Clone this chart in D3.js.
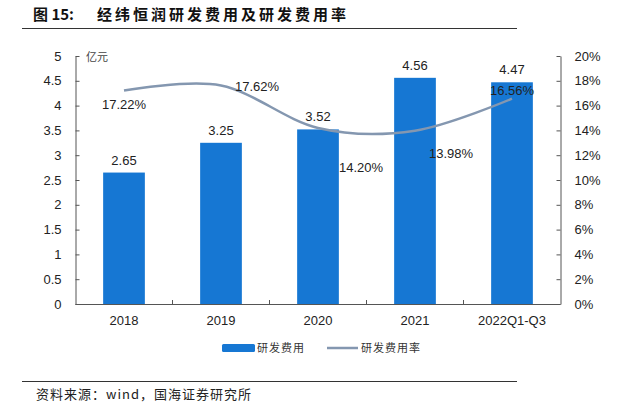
<!DOCTYPE html>
<html>
<head>
<meta charset="utf-8">
<script src="https://cdn.jsdelivr.net/npm/d3@7/dist/d3.min.js"></script>
<style>
  body { margin: 0; background: #fff; }
  svg { display: block; }
</style>
</head>
<body>
<svg id="chart" width="624" height="407"></svg>
<script>
const categories = ["2018", "2019", "2020", "2021", "2022Q1-Q3"]
const spending = [2.65, 3.25, 3.52, 4.56, 4.47]      // 研发费用, 亿元
const ratio = [17.22, 17.62, 14.20, 13.98, 16.56]    // 研发费用率, %
const leftTicks = [0, 0.5, 1, 1.5, 2, 2.5, 3, 3.5, 4, 4.5, 5]
const rightTicks = [0, 2, 4, 6, 8, 10, 12, 14, 16, 18, 20]

const svg = d3.select("#chart")
const numFont = "'Liberation Sans', Arial, sans-serif"
const cjkFont = "'Noto Sans CJK SC', sans-serif"

const plotLeft = 75.5, plotRight = 560.5, plotTop = 56, plotBottom = 304

// title
svg.append("text")
  .attr("x", 33).attr("y", 20)
  .style("font-family", cjkFont)
  .style("font-size", "15px")
  .style("font-weight", "bold")
  .style("fill", "#111")
  .text("图 15:")
svg.append("text")
  .attr("x", 97).attr("y", 20)
  .style("font-family", cjkFont)
  .style("font-size", "15px")
  .style("font-weight", "bold")
  .style("letter-spacing", "3px")
  .style("fill", "#111")
  .text("经纬恒润研发费用及研发费用率")

svg.append("line")
  .attr("x1", 22).attr("x2", 517).attr("y1", 28.5).attr("y2", 28.5)
  .attr("stroke", "#333").attr("stroke-width", 1)

const x = d3.scaleBand().domain(categories).range([plotLeft, plotRight]).paddingInner(0.57).paddingOuter(0.285)
const yL = d3.scaleLinear().domain([0, 5]).range([plotBottom, plotTop])
const yR = d3.scaleLinear().domain([0, 20]).range([plotBottom, plotTop])

// bars
svg.selectAll("rect.bar")
  .data(spending)
  .join("rect")
  .attr("class", "bar")
  .attr("x", (d, i) => x(categories[i]))
  .attr("y", d => yL(d))
  .attr("width", x.bandwidth())
  .attr("height", d => plotBottom - yL(d))
  .attr("fill", "#1677d3")

svg.selectAll("text.barlab")
  .data(spending)
  .join("text")
  .attr("class", "barlab")
  .attr("x", (d, i) => x(categories[i]) + x.bandwidth() / 2)
  .attr("y", d => yL(d) - 8)
  .attr("text-anchor", "middle")
  .style("font-family", numFont)
  .style("font-size", "13px")
  .style("fill", "#222")
  .text(d => d.toFixed(2))

// line
const cx = i => x(categories[i]) + x.bandwidth() / 2
const line = d3.line()
  .x((d, i) => cx(i))
  .y(d => yR(d))
  .curve(d3.curveCardinal.tension(0))

svg.append("path")
  .datum(ratio)
  .attr("fill", "none")
  .attr("stroke", "#8497b0")
  .attr("stroke-width", 2.5)
  .attr("d", line)

// line labels, offsets relative to each point
const labOff = [[0, 19], [36, 5], [43, 44], [36, 27], [0, -4]]
svg.selectAll("text.ratiolab")
  .data(ratio)
  .join("text")
  .attr("class", "ratiolab")
  .attr("x", (d, i) => cx(i) + labOff[i][0])
  .attr("y", (d, i) => yR(d) + labOff[i][1])
  .attr("text-anchor", "middle")
  .style("font-family", numFont)
  .style("font-size", "13px")
  .style("fill", "#222")
  .text(d => d.toFixed(2) + "%")

// axes
const axisStyle = g => {
  g.select(".domain").attr("stroke", "#555")
  g.selectAll(".tick line").attr("stroke", "#555")
  g.selectAll(".tick text")
    .style("font-family", numFont)
    .style("font-size", "13px")
    .style("fill", "#222")
}

svg.append("g")
  .attr("transform", `translate(${plotLeft},0)`)
  .call(d3.axisLeft(yL).tickValues(leftTicks).tickSize(-4).tickSizeOuter(0).tickPadding(14).tickFormat(d3.format("")))
  .call(axisStyle)

svg.append("g")
  .attr("transform", `translate(${plotRight},0)`)
  .call(d3.axisRight(yR).tickValues(rightTicks).tickSize(-4).tickSizeOuter(0).tickPadding(14).tickFormat(d => d + "%"))
  .call(axisStyle)

const xAxis = svg.append("g")
  .attr("transform", `translate(0,${plotBottom})`)
  .call(d3.axisBottom(x).tickSize(0).tickPadding(12))
  .call(axisStyle)
xAxis.select(".domain").remove()

svg.append("line")
  .attr("x1", plotLeft).attr("x2", plotRight).attr("y1", plotBottom + 0.5).attr("y2", plotBottom + 0.5)
  .attr("stroke", "#555")

// separator ticks between categories
svg.selectAll("line.sep")
  .data(categories.slice(1))
  .join("line")
  .attr("class", "sep")
  .attr("x1", d => x(d) - x.step() * x.paddingInner() / 2)
  .attr("x2", d => x(d) - x.step() * x.paddingInner() / 2)
  .attr("y1", plotBottom).attr("y2", plotBottom - 4)
  .attr("stroke", "#555")

// unit label
svg.append("text")
  .attr("x", 86).attr("y", 61)
  .style("font-family", cjkFont)
  .style("font-size", "11px")
  .style("fill", "#444")
  .text("亿元")

// legend
const lg = svg.append("g").attr("transform", "translate(0,348)")
lg.append("rect").attr("x", 222).attr("y", -4).attr("width", 33).attr("height", 8).attr("rx", 1.5).attr("fill", "#1677d3")
lg.append("text").attr("x", 257).attr("y", 4)
  .style("font-family", cjkFont).style("font-size", "11px").style("letter-spacing", "1px").style("fill", "#333").text("研发费用")
lg.append("line").attr("x1", 327).attr("x2", 358).attr("y1", 0).attr("y2", 0)
  .attr("stroke", "#8497b0").attr("stroke-width", 2.5)
lg.append("text").attr("x", 361).attr("y", 4)
  .style("font-family", cjkFont).style("font-size", "11px").style("letter-spacing", "1px").style("fill", "#333").text("研发费用率")

// source
svg.append("line")
  .attr("x1", 22).attr("x2", 517).attr("y1", 381.5).attr("y2", 381.5)
  .attr("stroke", "#333").attr("stroke-width", 1)
svg.append("text")
  .attr("x", 36).attr("y", 399)
  .style("font-family", cjkFont)
  .style("font-size", "13px")
  .style("letter-spacing", "1px")
  .style("fill", "#222")
  .text("资料来源：wind，国海证券研究所")
</script>
</body>
</html>
